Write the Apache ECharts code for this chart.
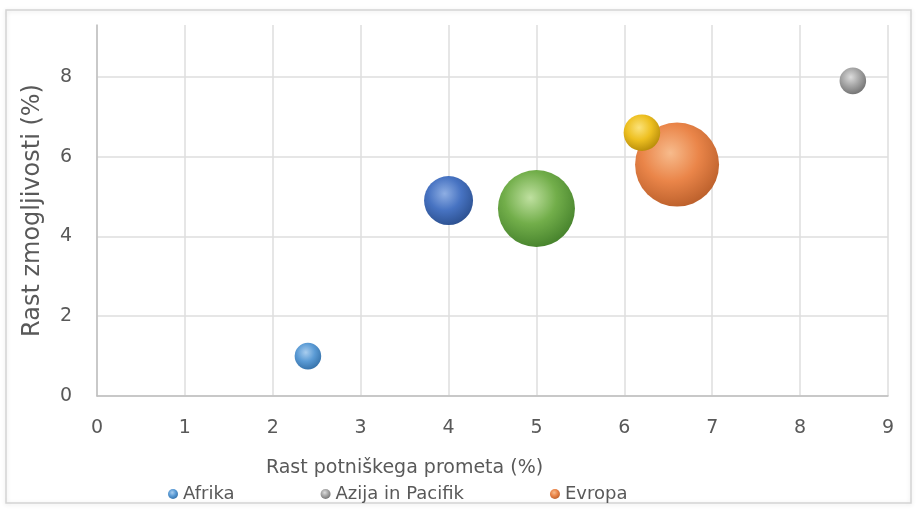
<!DOCTYPE html>
<html lang="sl">
<head>
    <meta charset="UTF-8">
    <title>Rast zmogljivosti in prometa</title>
    <script src="https://cdn.jsdelivr.net/npm/echarts@6/dist/echarts.min.js"></script>
    <style>
        html, body {margin: 0; padding: 0; background: #fff;}
        #main {width: 917px; height: 513px;}
    </style>
</head>
<body>
<div id="main"></div>
</body>
<script>
    // data
    var regions = ["Afrika", "Azija in Pacifik", "Evropa", "Latinska Amerika", "Bližnji vzhod", "Severna Amerika"];
    var legendNames = ["Afrika", "Azija in Pacifik", "Evropa"];
    var trafficGrowth = [2.4, 8.6, 6.6, 6.2, 4.0, 5.0];   // x, %
    var capacityGrowth = [1.0, 7.9, 5.8, 6.6, 4.9, 4.7];  // y, %
    var bubbleSize = [10, 10, 100, 19, 34, 84];           // relative size
    var xTicks = [0, 1, 2, 3, 4, 5, 6, 7, 8, 9];
    var yTicks = [0, 2, 4, 6, 8];

    // highlight, base, rim for each sphere
    var shades = [
        ["#a9cdee", "#5b9bd5", "#3470a8"],
        ["#dcdcdc", "#a5a5a5", "#707070"],
        ["#f7bb8c", "#ea8549", "#b95e2a"],
        ["#fbe27a", "#eec021", "#b58a08"],
        ["#8eaee3", "#4773c2", "#2b4f8e"],
        ["#bfe0a0", "#72ae4a", "#44802b"]
    ];

    function sphere(s) {
        return {
            type: "radial", x: 0.42, y: 0.36, r: 0.68,
            colorStops: [
                {offset: 0, color: s[0]},
                {offset: 0.5, color: s[1]},
                {offset: 1, color: s[2]}
            ]
        };
    }

    var maxBubble = 84; // px diameter of the biggest bubble
    var series = regions.map(function (name, i) {
        return {
            name: name,
            type: "scatter",
            data: [[trafficGrowth[i], capacityGrowth[i], bubbleSize[i]]],
            symbolSize: function (v) {
                return maxBubble * Math.sqrt(v[2] / 100);
            },
            itemStyle: {color: sphere(shades[i]), opacity: 1},
            emphasis: {disabled: true}
        };
    });

    var textColor = "#595959";
    var font = "DejaVu Sans";

    var MyChart = echarts.init(document.getElementById("main"));
    var option = {
        animation: false,
        backgroundColor: "#fff",
        textStyle: {fontFamily: font},
        graphic: [{
            type: "rect",
            shape: {x: 6, y: 10, width: 905, height: 493},
            style: {fill: "none", stroke: "#d4d4d4", lineWidth: 1.5,
                shadowBlur: 4, shadowColor: "rgba(0,0,0,0.12)", shadowOffsetY: 1},
            silent: true
        }],
        grid: {left: 97, right: 29, top: 25, bottom: 117},
        legend: {
            data: legendNames,
            left: 163,
            top: 480,
            icon: "circle",
            itemWidth: 10,
            itemHeight: 10,
            itemGap: 86,
            textStyle: {color: textColor, fontSize: 18, fontFamily: font}
        },
        xAxis: {
            type: "value",
            min: xTicks[0],
            max: xTicks[xTicks.length - 1],
            interval: 1,
            name: "Rast potniškega prometa (%)",
            nameLocation: "middle",
            nameGap: 63,
            nameTextStyle: {color: textColor, fontSize: 19, fontFamily: font, padding: [0, 176, 0, 0]},
            axisLine: {lineStyle: {color: "#bfbfbf", width: 1.5}},
            axisTick: {show: false},
            axisLabel: {color: textColor, fontSize: 19, margin: 23},
            splitLine: {lineStyle: {color: "#dedede", width: 1.5}}
        },
        yAxis: {
            type: "value",
            min: yTicks[0],
            max: 9.3,
            interval: 2,
            name: "Rast zmogljivosti (%)",
            nameLocation: "middle",
            nameGap: 52,
            nameTextStyle: {color: textColor, fontSize: 24, fontFamily: font},
            axisLine: {show: true, lineStyle: {color: "#bfbfbf", width: 1.5}},
            axisTick: {show: false},
            axisLabel: {color: textColor, fontSize: 19, margin: 25, showMaxLabel: false},
            splitLine: {showMaxLine: false, lineStyle: {color: "#dedede", width: 1.5}}
        },
        series: series
    };
    MyChart.setOption(option);
</script>
</html>
